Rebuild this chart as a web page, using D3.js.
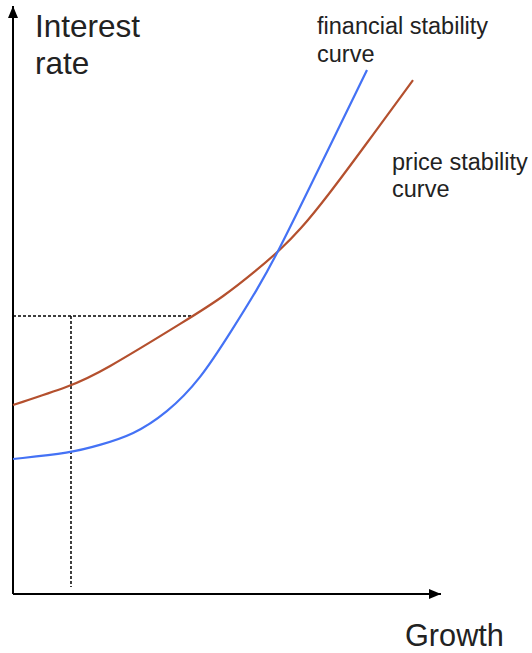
<!DOCTYPE html>
<html><head><meta charset="utf-8">
<script src="https://cdn.jsdelivr.net/npm/d3@7"></script>
<style>html,body{margin:0;padding:0;background:#fff;}svg{display:block;}</style>
</head><body>
<script>
// Data (growth, interest rate) in arbitrary units
const priceGrowth    = [0, 1.355, 2.033, 4.136, 4.907, 5.701, 6.238, 6.706, 7.336, 8.271, 9.346];
const priceRate      = [3.214, 3.537, 3.759, 4.694, 5.051, 5.510, 5.850, 6.190, 6.752, 7.670, 8.741];
const finGrowth      = [0, 1.355, 2.033, 2.804, 3.598, 4.369, 5.117, 5.701, 6.192, 6.869, 8.271];
const finRate        = [2.296, 2.398, 2.534, 2.704, 3.078, 3.639, 4.490, 5.170, 5.816, 6.820, 8.912];
const guideGrowth    = 1.355;
const guideRate      = 4.73;
const guideEndGrowth = 4.21;
const guideBottom    = 0.12;

const W = 532, H = 653;
const x = d3.scaleLinear().domain([0, 10]).range([13, 441]);
const y = d3.scaleLinear().domain([0, 10]).range([594, 6]);

const svg = d3.select("body").append("svg").attr("width", W).attr("height", H);
const defs = svg.append("defs");
defs.append("marker").attr("id", "arr").attr("viewBox", "0 0 12 10")
  .attr("refX", 12).attr("refY", 5).attr("markerWidth", 12).attr("markerHeight", 10)
  .attr("markerUnits", "userSpaceOnUse").attr("orient", "auto")
  .append("path").attr("d", "M0,0 L12,5 L0,10 Z").attr("fill", "#000");

// axes
svg.append("line").attr("x1", x(0)).attr("y1", y(0)).attr("x2", x(10)).attr("y2", y(0))
  .attr("stroke", "#000").attr("stroke-width", 2).attr("marker-end", "url(#arr)");
svg.append("line").attr("x1", x(0)).attr("y1", y(0)).attr("x2", x(0)).attr("y2", y(10))
  .attr("stroke", "#000").attr("stroke-width", 2).attr("marker-end", "url(#arr)");

// guides
const g = svg.append("g").attr("stroke", "#000").attr("stroke-width", 1.5).attr("stroke-dasharray", "3,2");
g.append("line").attr("x1", x(0)).attr("y1", y(guideRate)).attr("x2", x(guideEndGrowth)).attr("y2", y(guideRate));
g.append("line").attr("x1", x(guideGrowth)).attr("y1", y(guideRate)).attr("x2", x(guideGrowth)).attr("y2", y(guideBottom));

const line = d3.line().x(d => x(d[0])).y(d => y(d[1])).curve(d3.curveBasis);
svg.append("path").datum(priceGrowth.map((v, i) => [v, priceRate[i]]))
  .attr("d", line).attr("fill", "none").attr("stroke", "#b4502e").attr("stroke-width", 2.2);
svg.append("path").datum(finGrowth.map((v, i) => [v, finRate[i]]))
  .attr("d", line).attr("fill", "none").attr("stroke", "#4472f5").attr("stroke-width", 2.2);

const font = "'Liberation Sans', Arial, sans-serif";
function label(lines, px, py, size, lh) {
  const t = svg.append("text").attr("font-family", font).attr("font-size", size).attr("fill", "#222");
  lines.forEach((s, i) => t.append("tspan").attr("x", px).attr("y", py + i * lh).text(s));
}
label(["Interest", "rate"], 35, 37, 31.5, 37);
label(["Growth"], 405, 646, 30.7, 0);
label(["financial stability", "curve"], 317, 34, 23.5, 28);
label(["price stability", "curve"], 392, 170, 23.5, 27);
</script>
</body></html>
